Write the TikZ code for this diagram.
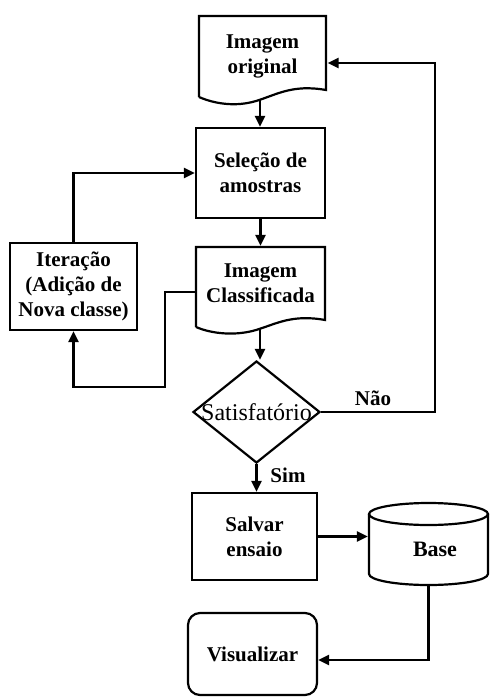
\documentclass[tikz,border=0pt]{standalone}
\usepackage{fontspec}
\setmainfont{Liberation Serif}
\usetikzlibrary{arrows.meta,shapes.geometric,calc}
\begin{document}
\begin{tikzpicture}[x=1pt,y=-1pt,
  line width=2.2pt,
  txt/.style={font=\fontsize{21}{25}\selectfont\bfseries, align=center, inner sep=0pt},
  boxnode/.style={txt, draw, rectangle},
  arr/.style={-{Triangle[length=11pt,width=10pt]}},
  lbl/.style={font=\fontsize{21}{24}\selectfont\bfseries, inner sep=0pt}
]
\useasboundingbox (0,0) rectangle (492,697);

% Imagem original (document)
\node[txt, minimum width=128pt, minimum height=81pt] (orig) at (262.5,56.5) {Imagem\\original};
\draw (199,97) -- (199,16) -- (326,16) -- (326,90)
  .. controls (292,84) and (276,95) .. (256,101)
  .. controls (236,107) and (215,104) .. (199,97);
\coordinate (origw) at (260,100);

% Selecao de amostras
\node[boxnode, minimum width=129pt, minimum height=90pt] (sel) at (260.5,173) {Seleção de\\amostras};

% Imagem Classificada (document)
\node[txt, minimum width=129pt, minimum height=73pt] (cls) at (260.5,283.5) {Imagem\\Classificada};
\draw (196,327) -- (196,247) -- (325,247) -- (325,320)
  .. controls (292,314) and (276,324) .. (256,330)
  .. controls (236,336) and (212,334) .. (196,327);
\coordinate (clsw) at (260,329);

% Iteracao
\node[boxnode, minimum width=127pt, minimum height=87pt] (iter) at (73.5,286.5) {Iteração\\(Adição de\\Nova classe)};

% Decision
\node[diamond, draw, minimum width=127pt, minimum height=102pt, inner sep=0pt] (dec) at (256.5,412) {};
\node[font=\fontsize{24}{28}\selectfont, inner sep=0pt] (dectxt) at (dec.center) {Satisfatório};

% Salvar ensaio
\node[boxnode, minimum width=125pt, minimum height=87pt] (sal) at (254.5,536.5) {Salvar\\ensaio};

% Base (cylinder)
\node[minimum width=119pt, minimum height=82pt, inner sep=0pt] (base) at (428.5,544) {};
\draw (428.5,514) ellipse [x radius=59.5pt, y radius=11pt];
\draw (369,514) -- (369,574) arc[start angle=180, end angle=360, x radius=59.5pt, y radius=11pt] -- (488,514);
\node[txt, font=\fontsize{22}{25}\selectfont\bfseries] (basetxt) at (435,549) {Base};

% Visualizar
\node[boxnode, rounded corners=12pt, minimum width=129pt, minimum height=82pt] (vis) at (252.5,654) {Visualizar};

% Connectors
\draw[arr] (origw) -- (origw |- sel.north);
\draw[arr] (sel.south) -- (sel.south |- cls.north);
\draw[arr] (clsw) -- (clsw |- dec.north);
\draw[arr] (dec.south) -- (dec.south |- sal.north);
\draw[arr] (sal.east) -- (sal.east -| base.west);
\draw[arr] (base.south) |- ([yshift=-6pt]vis.east);
\coordinate (nr) at (435,412);
\draw[arr] (dec.east) -- (nr) |- ([yshift=-6.5pt]orig.east);
\draw[arr] (iter.north) |- (sel.west);
\coordinate (lp) at (165,387);
\draw[arr] ([yshift=-8.5pt]cls.west) -| (lp) -| (iter.south);

% Labels
\node[lbl] (nao) at (373,398) {Não};
\node[lbl] (sim) at (288,475) {Sim};
\end{tikzpicture}
\end{document}
